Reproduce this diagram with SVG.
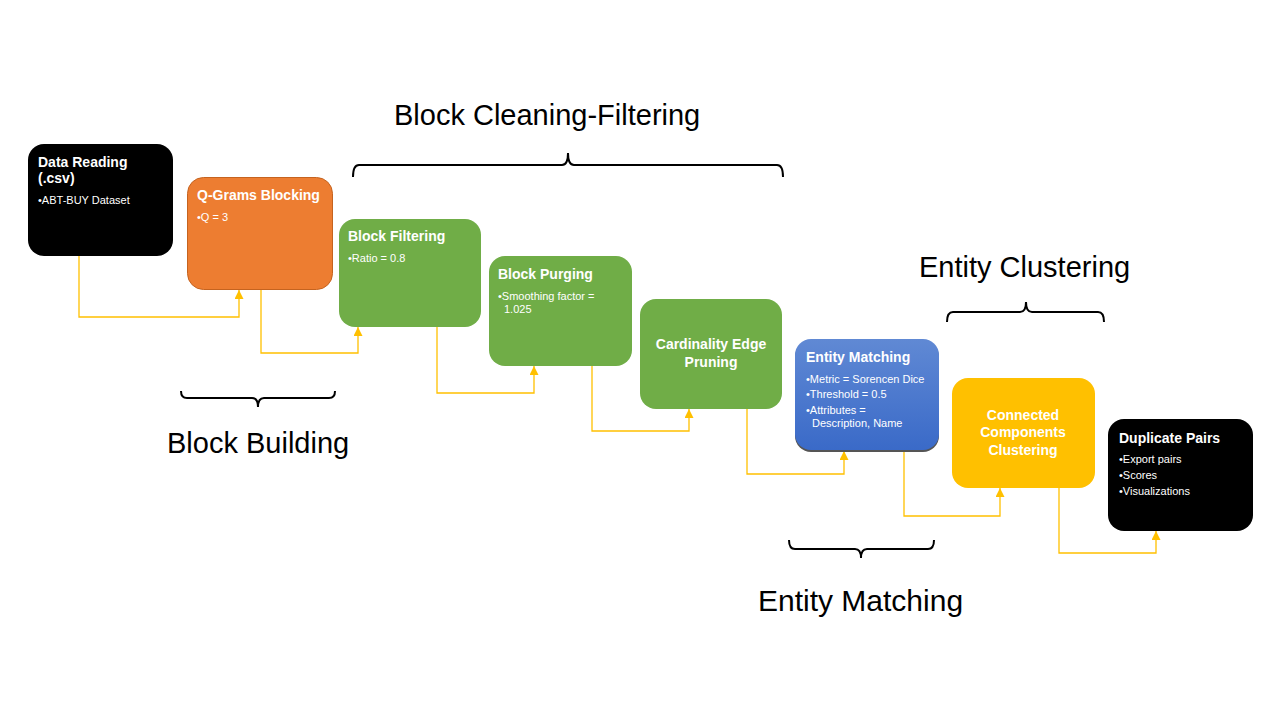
<svg xmlns="http://www.w3.org/2000/svg" width="1280" height="720" viewBox="0 0 1280 720">
<defs>
<style>
.t{font-family:"Liberation Sans",Arial,sans-serif;font-weight:bold;font-size:14px;fill:#fff}
.b{font-family:"Liberation Sans",Arial,sans-serif;font-size:11px;fill:#fff}
.h{font-family:"Liberation Sans",Arial,sans-serif;font-size:29px;fill:#000}
.c{fill:none;stroke:#FFC000;stroke-width:1.3}
.br{fill:none;stroke:#000;stroke-width:2}
</style>
<marker id="ah" viewBox="0 0 10 10" refX="10" refY="5" markerWidth="9" markerHeight="9" markerUnits="userSpaceOnUse" orient="auto">
<path d="M0,0 L10,5 L0,10 Z" fill="#FFC000"/>
</marker>
<linearGradient id="blue" x1="0" y1="0" x2="0" y2="1">
<stop offset="0" stop-color="#6089D4"/>
<stop offset="1" stop-color="#3A6AC8"/>
</linearGradient>
</defs>
<rect width="1280" height="720" fill="#fff"/>

<g id="connectors">
<path class="c" d="M79,256 V317 H239 V290" marker-end="url(#ah)"/>
<path class="c" d="M261,290 V353 H358 V327" marker-end="url(#ah)"/>
<path class="c" d="M437,327 V393 H534 V366" marker-end="url(#ah)"/>
<path class="c" d="M592,366 V431 H689 V409" marker-end="url(#ah)"/>
<path class="c" d="M747,409 V474 H844 V451" marker-end="url(#ah)"/>
<path class="c" d="M904,451 V516 H1000 V488" marker-end="url(#ah)"/>
<path class="c" d="M1059,488 V553 H1156 V531" marker-end="url(#ah)"/>
</g>

<g id="braces">
<path class="br" d="M353,177 Q353,165 359,165 H562 Q568,165 568,153 Q568,165 574,165 H777 Q783,165 783,177"/>
<path class="br" d="M181,391 Q181,398 187,398 H252 Q258,398 258,407 Q258,398 264,398 H329 Q335,398 335,391"/>
<path class="br" d="M947,322 Q947,312 953,312 H1020 Q1026,312 1026,302 Q1026,312 1032,312 H1098 Q1104,312 1104,322"/>
<path class="br" d="M789,540 Q789,549 795,549 H855 Q861,549 861,558 Q861,549 867,549 H928 Q934,549 934,540"/>
</g>

<g id="headers">
<text class="h" x="394" y="125">Block Cleaning-Filtering</text>
<text class="h" x="167" y="453">Block Building</text>
<text class="h" x="919" y="277">Entity Clustering</text>
<text class="h" x="758" y="611" style="font-size:30px">Entity Matching</text>
</g>

<g id="data-reading">
<rect x="28" y="144" width="145" height="112" rx="16" fill="#000"/>
<text class="t" x="38" y="167">Data Reading</text>
<text class="t" x="38" y="183">(.csv)</text>
<text class="b" x="38" y="204">•ABT-BUY Dataset</text>
</g>

<g id="qgrams-blocking">
<rect x="187.5" y="177.5" width="145" height="112" rx="16" fill="#ED7D31" stroke="#C5631F" stroke-width="1"/>
<text class="t" x="197" y="200">Q-Grams Blocking</text>
<text class="b" x="197" y="221">•Q = 3</text>
</g>

<g id="block-filtering">
<rect x="339" y="219" width="142" height="108" rx="16" fill="#70AD47"/>
<text class="t" x="348" y="241">Block Filtering</text>
<text class="b" x="348" y="262">•Ratio = 0.8</text>
</g>

<g id="block-purging">
<rect x="489" y="256" width="143" height="110" rx="16" fill="#70AD47"/>
<text class="t" x="498" y="279">Block Purging</text>
<text class="b" x="498" y="300">•Smoothing factor =</text>
<text class="b" x="504" y="313">1.025</text>
</g>

<g id="cardinality-edge-pruning">
<rect x="640" y="299" width="142" height="110" rx="16" fill="#70AD47"/>
<text class="t" x="711" y="349" text-anchor="middle">Cardinality Edge</text>
<text class="t" x="711" y="367" text-anchor="middle">Pruning</text>
</g>

<g id="entity-matching">
<rect x="795" y="341" width="144" height="111" rx="16" fill="#555"/>
<rect x="795" y="339" width="144" height="111" rx="16" fill="url(#blue)"/>
<text class="t" x="806" y="362">Entity Matching</text>
<text class="b" x="806" y="383">•Metric = Sorencen Dice</text>
<text class="b" x="806" y="398">•Threshold = 0.5</text>
<text class="b" x="806" y="414">•Attributes =</text>
<text class="b" x="812" y="427">Description, Name</text>
</g>

<g id="connected-components-clustering">
<rect x="952" y="378" width="143" height="110" rx="16" fill="#FFC000"/>
<text class="t" x="1023" y="420" text-anchor="middle">Connected</text>
<text class="t" x="1023" y="437" text-anchor="middle">Components</text>
<text class="t" x="1023" y="455" text-anchor="middle">Clustering</text>
</g>

<g id="duplicate-pairs">
<rect x="1108" y="419" width="145" height="112" rx="16" fill="#000"/>
<text class="t" x="1119" y="443">Duplicate Pairs</text>
<text class="b" x="1119" y="463">•Export pairs</text>
<text class="b" x="1119" y="479">•Scores</text>
<text class="b" x="1119" y="495">•Visualizations</text>
</g>
</svg>
